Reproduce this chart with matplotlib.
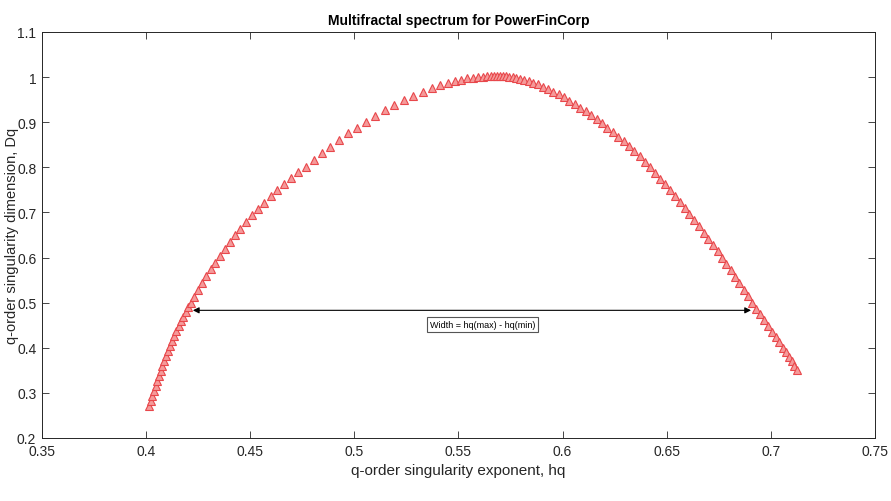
import matplotlib
matplotlib.use("Agg")
import matplotlib.pyplot as plt

# singularity exponent hq and dimension Dq
hq = [
    0.4015, 0.4023, 0.4031, 0.4039, 0.4047, 0.4055, 0.4063, 0.4071, 0.4079, 0.4088,
    0.4097, 0.4106, 0.4116, 0.4126, 0.4136, 0.4146, 0.4157, 0.4168, 0.4179, 0.4190,
    0.4202, 0.4214, 0.4232, 0.4251, 0.4270, 0.4290, 0.4311, 0.4333, 0.4355, 0.4378,
    0.4402, 0.4427, 0.4453, 0.4480, 0.4508, 0.4537, 0.4567, 0.4598, 0.4630, 0.4663,
    0.4697, 0.4732, 0.4768, 0.4806, 0.4845, 0.4885, 0.4926, 0.4968, 0.5011, 0.5055,
    0.5100, 0.5146, 0.5192, 0.5238, 0.5284, 0.5329, 0.5372, 0.5412, 0.5449, 0.5483,
    0.5514, 0.5543, 0.5570, 0.5595, 0.5618, 0.5639, 0.5658, 0.5673, 0.5685,
    0.5698, 0.5712, 0.5727, 0.5743, 0.5760, 0.5778, 0.5797, 0.5817, 0.5838, 0.5860,
    0.5883, 0.5907, 0.5931, 0.5956, 0.5981, 0.6007, 0.6033, 0.6059, 0.6085, 0.6111,
    0.6137, 0.6163, 0.6189, 0.6215, 0.6241, 0.6267, 0.6293, 0.6319, 0.6345, 0.6371,
    0.6396, 0.6421, 0.6446, 0.6470, 0.6494, 0.6518, 0.6541, 0.6564, 0.6587, 0.6609,
    0.6632, 0.6655, 0.6677, 0.6699, 0.6721, 0.6744, 0.6766, 0.6787, 0.6808, 0.6828,
    0.6849, 0.6869, 0.6890, 0.6910, 0.6930, 0.6949, 0.6968, 0.6987, 0.7005, 0.7023,
    0.7041, 0.7059, 0.7073, 0.7087, 0.7100, 0.7113, 0.7126,
]
Dq = [
    0.272, 0.283, 0.294, 0.305, 0.316, 0.327, 0.338, 0.349, 0.360, 0.371,
    0.382, 0.393, 0.404, 0.415, 0.426, 0.437, 0.448, 0.459, 0.469, 0.479,
    0.490, 0.500, 0.512, 0.528, 0.544, 0.559, 0.574, 0.589, 0.604, 0.619,
    0.634, 0.649, 0.664, 0.679, 0.694, 0.708, 0.722, 0.736, 0.750, 0.763,
    0.776, 0.789, 0.801, 0.816, 0.831, 0.846, 0.861, 0.875, 0.888, 0.901,
    0.913, 0.926, 0.938, 0.949, 0.959, 0.968, 0.976, 0.982, 0.987, 0.991,
    0.994, 0.997, 0.999, 1.000, 1.001, 1.002, 1.002, 1.003, 1.003,
    1.003, 1.002, 1.002, 1.001, 1.000, 0.998, 0.996, 0.994, 0.991, 0.988,
    0.984, 0.979, 0.974, 0.968, 0.962, 0.955, 0.948, 0.940, 0.932, 0.924,
    0.916, 0.907, 0.898, 0.888, 0.878, 0.868, 0.858, 0.847, 0.836, 0.824,
    0.812, 0.800, 0.788, 0.775, 0.762, 0.749, 0.736, 0.723, 0.710, 0.697,
    0.683, 0.669, 0.655, 0.641, 0.627, 0.614, 0.600, 0.586, 0.572, 0.557,
    0.543, 0.529, 0.514, 0.500, 0.487, 0.474, 0.461, 0.448, 0.436, 0.424,
    0.412, 0.400, 0.390, 0.380, 0.370, 0.360, 0.350,
]

width_arrow = [0.4225, 0.6905]
arrow_level = 0.483
width_text = "Width = hq(max) - hq(min)"

xticks = [0.35, 0.4, 0.45, 0.5, 0.55, 0.6, 0.65, 0.7, 0.75]
xlabels = ["0.35", "0.4", "0.45", "0.5", "0.55", "0.6", "0.65", "0.7", "0.75"]
yticks = [0.2, 0.3, 0.4, 0.5, 0.6, 0.7, 0.8, 0.9, 1.0, 1.1]
ylabels = ["0.2", "0.3", "0.4", "0.5", "0.6", "0.7", "0.8", "0.9", "1", "1.1"]

plt.rcParams["font.family"] = ["Liberation Sans", "DejaVu Sans"]

fig = plt.figure(figsize=(8.91, 5.02), dpi=100)
ax = fig.add_axes([0.047, 0.1255, 0.935, 0.8088])

ax.plot(hq, Dq, linestyle="none", marker="^", markersize=5.6,
        markerfacecolor="#f59a9a", markeredgecolor="#e8474b", markeredgewidth=0.8)

# double headed arrow for the spectrum width
ax.annotate("", xy=(width_arrow[0], arrow_level), xytext=(width_arrow[1], arrow_level),
            arrowprops=dict(arrowstyle="<|-|>", color="black", lw=0.8,
                            mutation_scale=9, shrinkA=0, shrinkB=0))
ax.text(0.5615, 0.452, width_text, fontsize=6.5, ha="center", va="center",
        bbox=dict(boxstyle="square,pad=0.35", facecolor="white",
                  edgecolor="#555555", linewidth=0.8))

ax.set_xlim(0.35, 0.75)
ax.set_ylim(0.2, 1.1)
ax.set_xticks(xticks)
ax.set_xticklabels(xlabels)
ax.set_yticks(yticks)
ax.set_yticklabels(ylabels)
ax.tick_params(direction="in", top=True, right=True, length=5, width=0.6,
               labelsize=10, colors="#262626", pad=4)
for s in ax.spines.values():
    s.set_linewidth(0.7)
    s.set_color("#262626")

ax.set_title("Multifractal spectrum for PowerFinCorp", fontsize=10, fontweight="bold", pad=6)
ax.set_xlabel("q-order singularity exponent, hq", fontsize=11, color="#262626")
ax.set_ylabel("q-order singularity dimension, Dq", fontsize=10.5, color="#262626")
ax.yaxis.set_label_coords(-0.028, 0.5)

fig.savefig("out.png", dpi=100)
